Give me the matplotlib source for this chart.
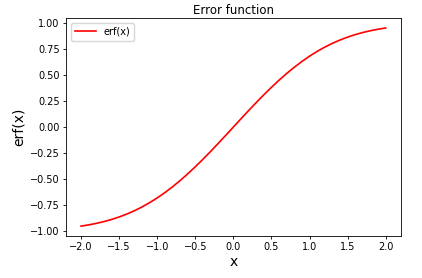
import numpy as np
import matplotlib
matplotlib.use('Agg')
import matplotlib.pyplot as plt

# x values read along the axis (step 0.1)
x = [-2.0, -1.9, -1.8, -1.7, -1.6, -1.5, -1.4, -1.3, -1.2, -1.1,
     -1.0, -0.9, -0.8, -0.7, -0.6, -0.5, -0.4, -0.3, -0.2, -0.1,
     0.0, 0.1, 0.2, 0.3, 0.4, 0.5, 0.6, 0.7, 0.8, 0.9,
     1.0, 1.1, 1.2, 1.3, 1.4, 1.5, 1.6, 1.7, 1.8, 1.9, 2.0]

# curve values
y = [-0.9545, -0.9426, -0.9281, -0.9109, -0.8904, -0.8664, -0.8385, -0.8064, -0.7699, -0.7287,
     -0.6827, -0.6319, -0.5763, -0.5161, -0.4515, -0.3829, -0.3108, -0.2358, -0.1585, -0.0797,
     0.0, 0.0797, 0.1585, 0.2358, 0.3108, 0.3829, 0.4515, 0.5161, 0.5763, 0.6319,
     0.6827, 0.7287, 0.7699, 0.8064, 0.8385, 0.8664, 0.8904, 0.9109, 0.9281, 0.9426, 0.9545]

fig = plt.figure(figsize=(4.22, 2.78), dpi=100)
ax = fig.add_axes([0.156, 0.151, 0.794, 0.784])

ax.plot(x, y, color='red', linewidth=1.2, label='erf(x)')

ax.set_title('Error function', fontsize=8.5, pad=3)
ax.set_xlabel('x', fontsize=10, labelpad=2)
ax.set_ylabel('erf(x)', fontsize=10, labelpad=3)
ax.tick_params(labelsize=7, length=2.5, width=0.6, pad=2)
for s in ax.spines.values():
    s.set_linewidth(0.6)

ax.legend(loc='upper left', fontsize=7, handlelength=2.2)

fig.savefig('out.png', dpi=100)
